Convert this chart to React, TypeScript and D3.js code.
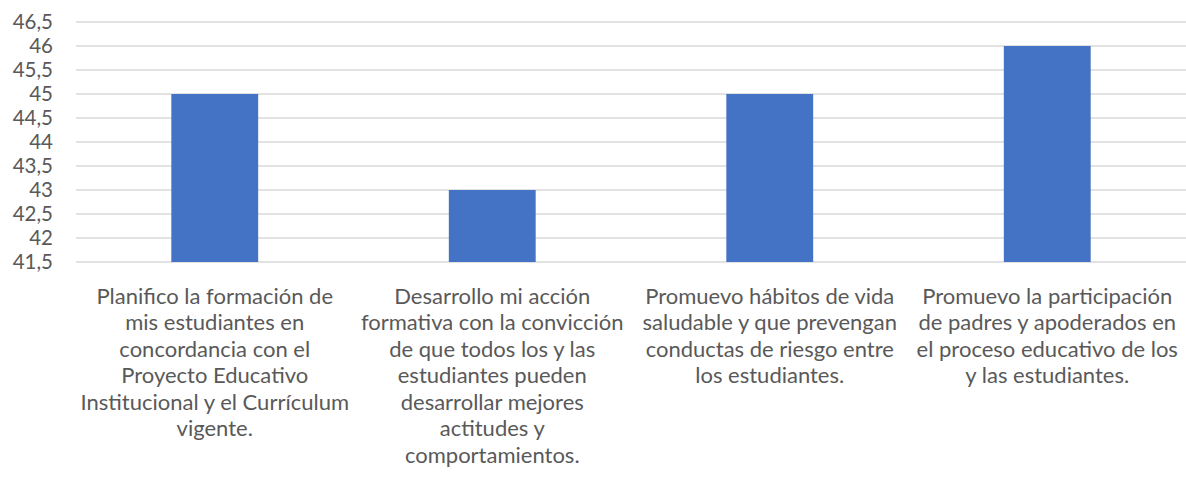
import React from "react";
import * as d3 from "d3";

const categories = ["c1", "c2", "c3", "c4"];
const values = [45, 43, 45, 46];
const categoryLabelLines = [
  ["Planifico la formación de", "mis estudiantes en", "concordancia con el", "Proyecto Educativo", "Institucional y el Currículum", "vigente."],
  ["Desarrollo mi acción", "formativa con la convicción", "de que todos los y las", "estudiantes pueden", "desarrollar mejores", "actitudes y", "comportamientos."],
  ["Promuevo hábitos de vida", "saludable y que prevengan", "conductas de riesgo entre", "los estudiantes."],
  ["Promuevo la participación", "de padres y apoderados en", "el proceso educativo de los", "y las estudiantes."],
];
const yTicks = [41.5, 42, 42.5, 43, 43.5, 44, 44.5, 45, 45.5, 46, 46.5];

const W = 1186;
const H = 480;
const left = 76;
const right = 1186;
const top = 22;
const bottom = 262;
const FONT = "Lato, 'Open Sans', sans-serif";

export default function App() {
  const x = d3.scaleBand<string>().domain(categories).range([left, right]).paddingInner(0.687).paddingOuter(0.3435);
  const y = d3.scaleLinear().domain([41.5, 46.5]).range([bottom, top]);
  const fmt = (v: number) => String(v).replace(".", ",");
  return (
    <svg width={W} height={H} style={{ position: "absolute", left: 0, top: 0 }}>
      <rect x={0} y={0} width={W} height={H} fill="#fff" />
      {yTicks.map((t) => (
        <g key={t}>
          <line x1={left} x2={right} y1={y(t)} y2={y(t)} stroke="#d9d9d9" strokeWidth={1.5} />
          <text x={53} y={y(t)} dy="0.35em" textAnchor="end" fontFamily={FONT} fontSize={20.5} fill="#595959">
            {fmt(t)}
          </text>
        </g>
      ))}
      {categories.map((c, i) => (
        <rect key={c} x={x(c)} y={y(values[i])} width={x.bandwidth()} height={y(41.5) - y(values[i])} fill="#4472c4" />
      ))}
      {categories.map((c, i) => {
        const cx = (x(c) as number) + x.bandwidth() / 2;
        return (
          <text key={c} textAnchor="middle" fontFamily={FONT} fontSize={22} fill="#595959">
            {categoryLabelLines[i].map((l, j) => (
              <tspan key={j} x={cx} y={296 + j * 26.5} dy="0.35em">
                {l}
              </tspan>
            ))}
          </text>
        );
      })}
    </svg>
  );
}
